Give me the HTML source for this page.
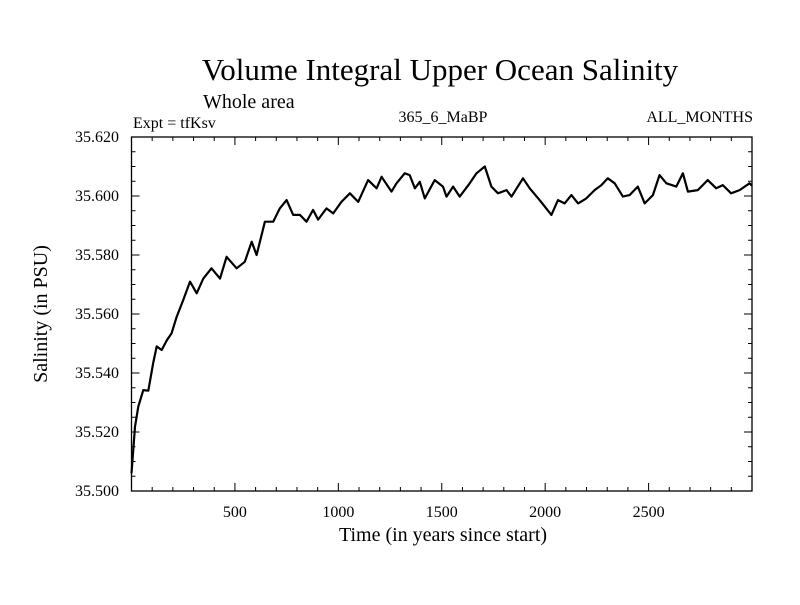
<!DOCTYPE html>
<html><head><meta charset="utf-8"><style>
body{margin:0;background:#fff;}
svg text{font-family:"Liberation Serif",serif;fill:#000;}
</style></head><body>
<svg id="chart" width="800" height="600">
<text x="440" y="80" font-size="31" text-anchor="middle">Volume Integral Upper Ocean Salinity</text>
<text x="203" y="108" font-size="20">Whole area</text>
<text x="133" y="128" font-size="16">Expt = tfKsv</text>
<text x="443" y="122" font-size="16" text-anchor="middle">365_6_MaBP</text>
<text x="753" y="122" font-size="16" text-anchor="end">ALL_MONTHS</text>
<text x="443" y="541" font-size="20" text-anchor="middle">Time (in years since start)</text>
<text transform="translate(47,314) rotate(-90)" font-size="20" text-anchor="middle">Salinity (in PSU)</text>
<g id="axes"></g>
<g id="plot"></g>
</svg>
<script>
const years=[0,17,33,57,81,105,122,146,170,194,218,250,283,315,347,387,428,460,508,548,581,605,645,685,717,750,782,814,846,878,902,943,975,1015,1056,1096,1144,1185,1209,1257,1281,1321,1345,1370,1394,1418,1466,1506,1523,1555,1587,1635,1668,1708,1740,1772,1813,1837,1893,1925,1973,2030,2062,2094,2127,2159,2199,2239,2272,2303,2336,2376,2408,2448,2481,2521,2553,2586,2634,2666,2690,2738,2786,2827,2859,2899,2940,2988,3000];
const salinity=[35.506,35.5218,35.5286,35.5342,35.534,35.5434,35.549,35.5478,35.551,35.5535,35.559,35.5647,35.571,35.567,35.572,35.5755,35.572,35.5794,35.5755,35.5777,35.5845,35.580,35.5913,35.5913,35.5958,35.5986,35.5936,35.5936,35.5913,35.5953,35.592,35.5958,35.5941,35.598,35.6009,35.598,35.6054,35.6026,35.6065,35.6015,35.6043,35.6077,35.6071,35.6026,35.6048,35.5992,35.6054,35.6032,35.5998,35.6032,35.5998,35.6043,35.6077,35.610,35.6032,35.6009,35.602,35.5998,35.606,35.6026,35.5986,35.5936,35.5986,35.5975,35.6003,35.5975,35.5992,35.602,35.6037,35.606,35.6043,35.5998,35.6003,35.6032,35.5975,35.6003,35.6071,35.6043,35.6032,35.6077,35.6015,35.602,35.6054,35.6026,35.6037,35.6009,35.602,35.6043,35.6035];
const xTicks=[500,1000,1500,2000,2500];
const yTicks=[35.500,35.520,35.540,35.560,35.580,35.600,35.620];
const yTickLabels=["35.500","35.520","35.540","35.560","35.580","35.600","35.620"];
const X0=131.5,X1=752,Y0=491,Y1=137,xMin=0,xMax=3000,yMin=35.5,yMax=35.62;
function sx(v){return X0+(v-xMin)/(xMax-xMin)*(X1-X0);}
function sy(v){return Y0-(v-yMin)/(yMax-yMin)*(Y0-Y1);}
const NS="http://www.w3.org/2000/svg";
const axes=document.getElementById('axes'),plot=document.getElementById('plot');
function mk(tag,attrs,parent){const e=document.createElementNS(NS,tag);for(const k in attrs)e.setAttribute(k,attrs[k]);parent.appendChild(e);return e;}
const frame=mk('rect',{x:X0,y:Y1,width:X1-X0,height:Y0-Y1,fill:'none',stroke:'#000','stroke-width':1.3},axes);


let tp='';
for(let v=100;v<xMax;v+=100){const x=sx(v),L=(v%500===0)?8:4;tp+=`M${x},${Y0}v${-L}M${x},${Y1}v${L}`;}
for(let i=0;i<=24;i++){const v=yMin+i*0.005,y=sy(v),L=(i%4===0)?8:4;tp+=`M${X0},${y}h${L}M${X1},${y}h${-L}`;}
const ticks=mk('path',{d:tp,stroke:'#000','stroke-width':1,fill:'none'},axes);


xTicks.forEach(v=>{const t=mk('text',{x:sx(v),y:517,'font-size':16,'text-anchor':'middle'},axes);t.textContent=v;

});
yTicks.forEach((v,i)=>{const t=mk('text',{x:119,y:sy(v)+5,'font-size':16,'text-anchor':'end'},axes);t.textContent=yTickLabels[i];

});
const d=years.map((yr,i)=>(i?'L':'M')+sx(yr).toFixed(1)+','+sy(salinity[i]).toFixed(1)).join('');
const line=mk('path',{d:d,stroke:'#000','stroke-width':2.2,fill:'none','stroke-linejoin':'round'},plot);


</script>
</body></html>
